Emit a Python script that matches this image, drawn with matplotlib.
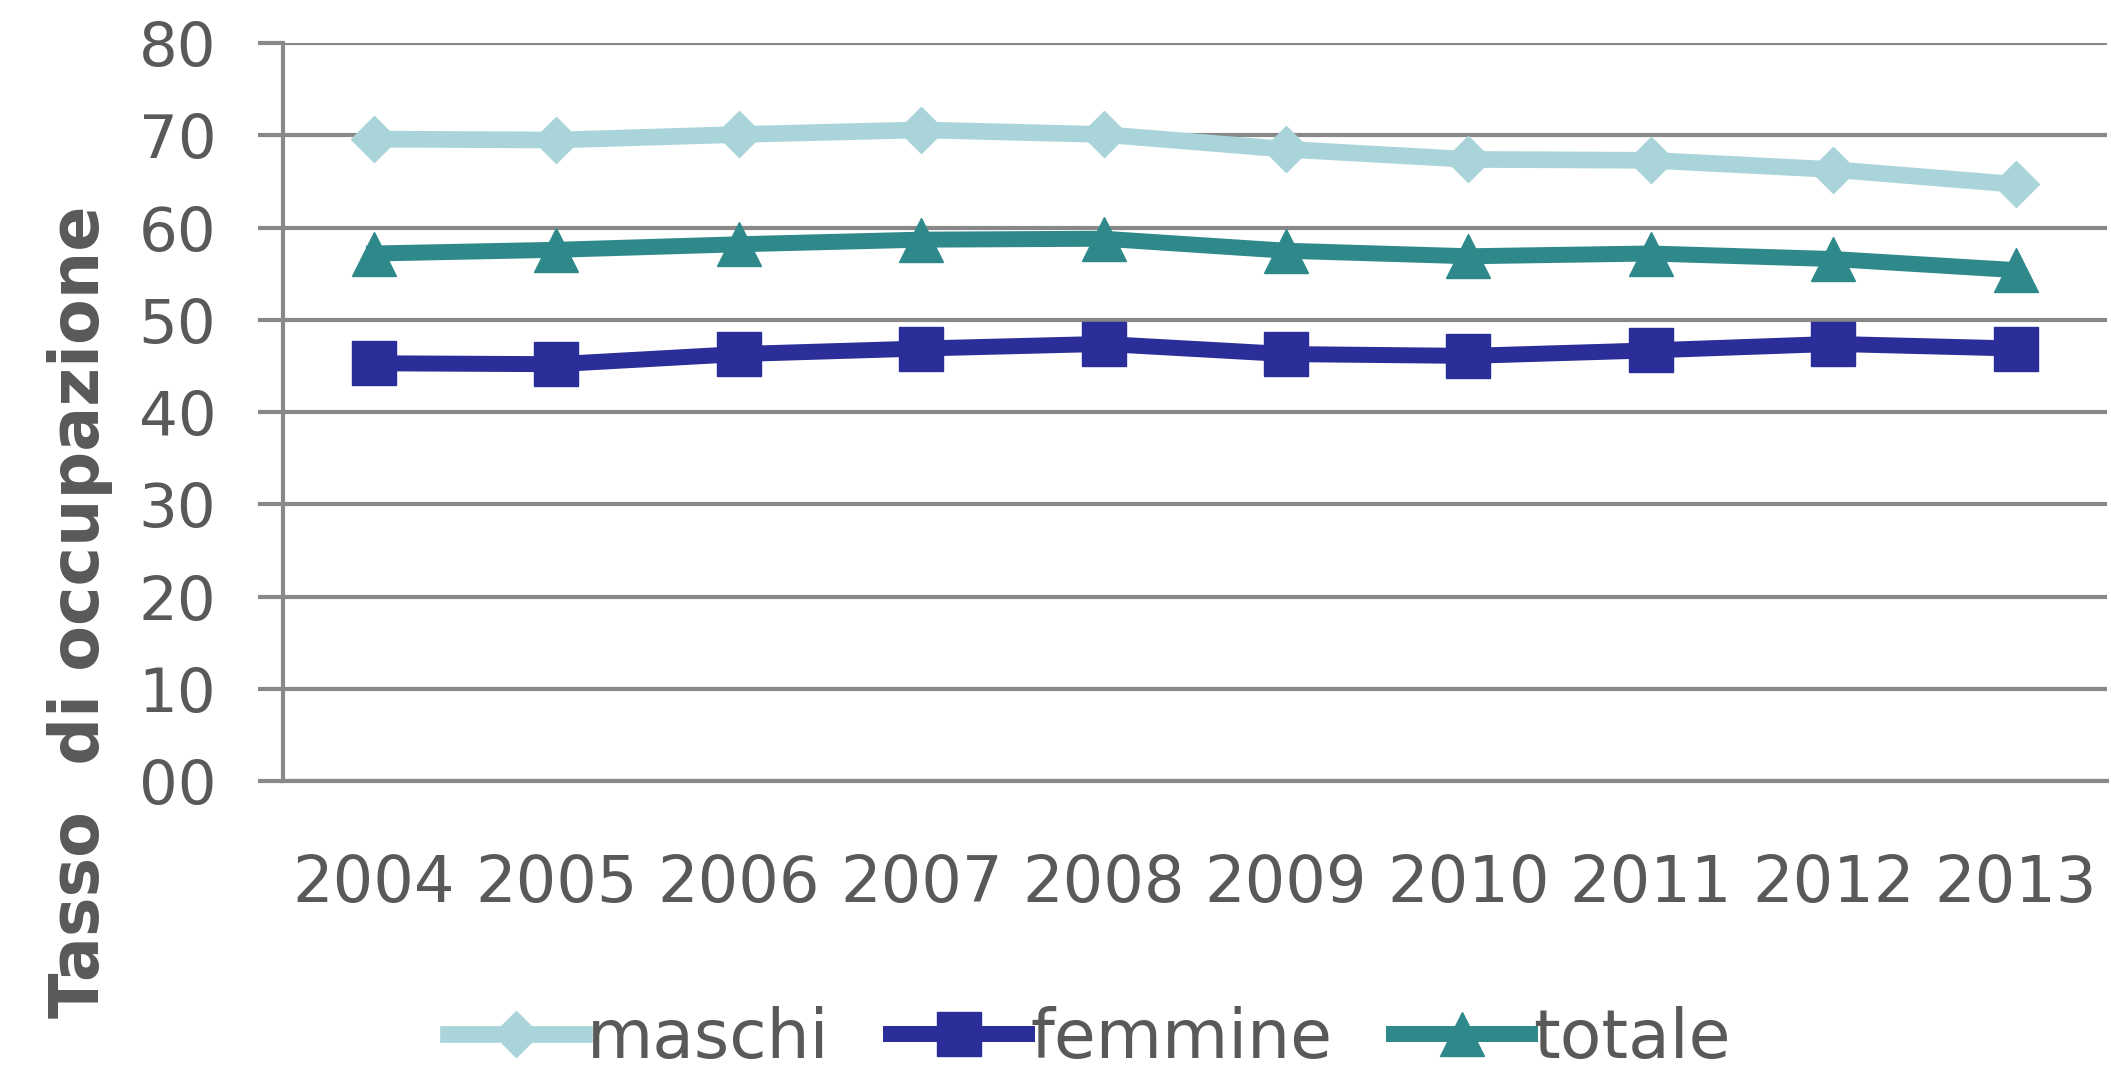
import numpy as np
import matplotlib.pyplot as plt

anni = ['2004', '2005', '2006', '2007', '2008', '2009', '2010', '2011', '2012', '2013']
maschi = [69.6, 69.5, 70.1, 70.6, 70.1, 68.5, 67.4, 67.3, 66.3, 64.7]
femmine = [45.3, 45.2, 46.3, 46.9, 47.4, 46.3, 46.1, 46.7, 47.4, 46.9]
totale = [57.2, 57.6, 58.2, 58.7, 58.8, 57.5, 56.9, 57.2, 56.6, 55.4]
yticks = [0, 10, 20, 30, 40, 50, 60, 70, 80]
ylabels = ['00', '10', '20', '30', '40', '50', '60', '70', '80']

grigio = '#595959'
linea = '#888888'

fig = plt.figure(figsize=(21.11, 10.79), dpi=100)
ax = fig.add_axes([0.134, 0.276, 0.864, 0.684])

x = np.arange(len(anni))
ax.plot(x, maschi, color='#A9D4D9', lw=12, marker='D', ms=23, label='maschi', zorder=3)
ax.plot(x, femmine, color='#2B2D99', lw=11.5, marker='s', ms=32, label='femmine', zorder=3)
ax.plot(x, totale, color='#2F898B', lw=11.5, marker='^', ms=32, label='totale', zorder=3)

ax.set_xlim(-0.5, 9.5)
ax.set_ylim(0, 80)
ax.set_yticks(yticks)
ax.set_yticklabels(ylabels)
ax.set_xticks(x)
ax.set_xticklabels(anni)
ax.grid(axis='y', color=linea, lw=3, zorder=1)
ax.set_axisbelow(True)

for s in ['top', 'right']:
    ax.spines[s].set_visible(False)
for s in ['left', 'bottom']:
    ax.spines[s].set_color(linea)
    ax.spines[s].set_linewidth(3)

ax.tick_params(axis='y', length=18, width=3, color=linea, pad=30, labelsize=44, labelcolor=grigio)
ax.tick_params(axis='x', length=0, pad=52, labelsize=46, labelcolor=grigio)

ax.set_ylabel('Tasso  di occupazione', fontsize=48, fontweight='bold', color=grigio)
ax.yaxis.set_label_coords(-0.093, 0.23)

leg = fig.legend(loc='center', bbox_to_anchor=(0.516, 0.037), ncol=3, frameon=False,
                 fontsize=49, handlelength=2.0, handletextpad=0.05, columnspacing=0.9)
for t in leg.get_texts():
    t.set_color(grigio)

fig.savefig('out.png', dpi=100)
